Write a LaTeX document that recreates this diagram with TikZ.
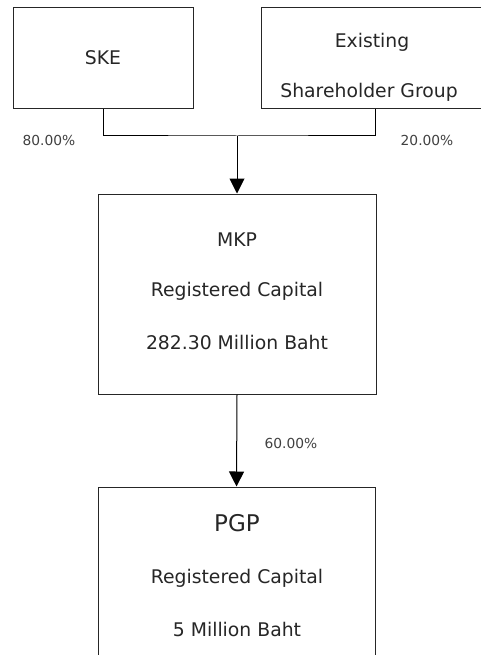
\documentclass[tikz,border=0pt]{standalone}
\usepackage{fontspec}
\setmainfont{DejaVu Sans}
\usetikzlibrary{arrows.meta}
\begin{document}
\begin{tikzpicture}[x=1pt,y=-1pt,
  boxnode/.style={draw=black!85,line width=1pt,rectangle,inner sep=0pt},
  maintext/.style={text=black!85,font=\fontsize{18.8}{22}\selectfont,inner sep=0pt},
  bigtext/.style={text=black!85,font=\fontsize{23}{26}\selectfont,inner sep=0pt},
  pcttext/.style={text=black!75,font=\fontsize{13.8}{16}\selectfont,inner sep=0pt},
  conn/.style={draw=black,line width=1pt},
  arr/.style={conn,-{Triangle[width=15pt,length=15pt]}}]
\useasboundingbox (0,0) rectangle (481,655);
% boxes
\node[boxnode,minimum width=180pt,minimum height=101pt] (ske) at (103,58.5) {};
\node[boxnode,minimum width=229pt,minimum height=101pt] (ex) at (375.5,58.5) {};
\node[boxnode,minimum width=278pt,minimum height=200pt] (mkp) at (237,294) {};
\node[boxnode,minimum width=277pt,minimum height=190pt] (pgp) at (236.5,582) {};
% texts
\node[maintext] (tske) at (103,58) {SKE};
\node[maintext] (tex1) at (372,42) {Existing};
\node[maintext] (tex2) at (369,92) {Shareholder Group};
\node[maintext] (tmkp1) at (237,240) {MKP};
\node[maintext] (tmkp2) at (237,291) {Registered Capital};
\node[maintext] (tmkp3) at (237,342) {282.30 Million Baht};
\node[bigtext] (tpgp1) at (237,523) {PGP};
\node[maintext] (tpgp2) at (237,578) {Registered Capital};
\node[maintext] (tpgp3) at (237,629) {5 Million Baht};
\node[pcttext] (p80) at (49,140) {80.00\%};
\node[pcttext] (p20) at (427,140) {20.00\%};
\node[pcttext] (p60) at (291,443) {60.00\%};
% connectors
\coordinate (j) at (237,136);
\draw[conn] (ske.south) |- (j) -| (ex.south);
\draw[arr] (j) -- (mkp.north);
\draw[arr] (mkp.south) -- (pgp.north);
\end{tikzpicture}
\end{document}
